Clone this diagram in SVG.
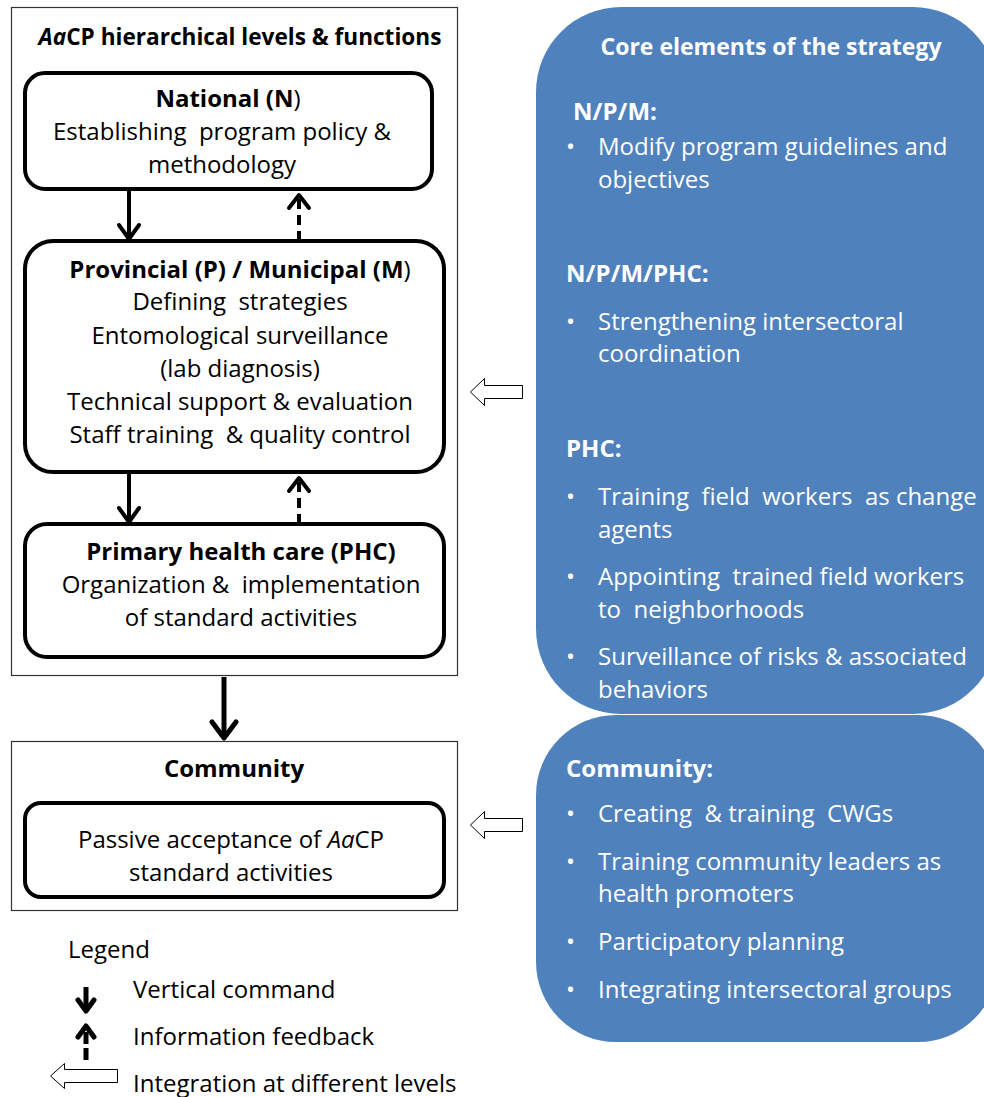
<svg xmlns="http://www.w3.org/2000/svg" width="984" height="1097" viewBox="0 0 984 1097">
<defs>
<style>
text{font-family:"Open Sans","Liberation Sans",Arial,sans-serif;font-size:24px;fill:#000;white-space:pre}
.b{font-weight:bold}
.c{text-anchor:middle}
.w{fill:#fff}
.frame{fill:#fff;stroke:#333;stroke-width:1.2}
.node{fill:#fff;stroke:#000;stroke-width:4}
.solid{stroke:#000;stroke-width:4;fill:none}
.dash{stroke:#000;stroke-width:4;fill:none;stroke-dasharray:10 6}
.head{stroke:#000;stroke-width:4;fill:none;stroke-linecap:round;stroke-linejoin:round}
.hollow{fill:#fff;stroke:#000;stroke-width:1}
.panel{fill:#4F81BD}
</style>
</defs>
<rect width="984" height="1097" fill="#fff"/>

<g id="hierarchy-frame">
<rect class="frame" x="11.5" y="7.5" width="446" height="668"/>
<text class="b c" x="240" y="45" style="font-size:22.6px"><tspan font-style="italic">Aa</tspan>CP hierarchical levels &amp; functions</text>
</g>

<g id="national">
<rect class="node" x="25" y="73" width="407" height="116" rx="20"/>
<text class="c" x="228" y="107"><tspan class="b">National (N</tspan>)</text>
<text class="c" x="222" y="140">Establishing  program policy &amp;</text>
<text class="c" x="222" y="173">methodology</text>
</g>

<g id="provincial">
<rect class="node" x="25" y="241" width="419" height="231" rx="28"/>
<text class="c" x="240" y="278"><tspan class="b">Provincial (P) / Municipal (M</tspan>)</text>
<text class="c" x="240" y="310">Defining  strategies</text>
<text class="c" x="240" y="344">Entomological surveillance</text>
<text class="c" x="240" y="377">(lab diagnosis)</text>
<text class="c" x="240" y="410">Technical support &amp; evaluation</text>
<text class="c" x="240" y="443">Staff training  &amp; quality control</text>
</g>

<g id="phc">
<rect class="node" x="25" y="524" width="419" height="133" rx="22"/>
<text class="b c" x="241" y="560">Primary health care (PHC)</text>
<text class="c" x="241" y="593">Organization &amp;  implementation</text>
<text class="c" x="241" y="626">of standard activities</text>
</g>

<g id="community">
<rect class="frame" x="11.5" y="741.5" width="446" height="169"/>
<text class="b c" x="234" y="777">Community</text>
<rect class="node" x="25" y="803" width="419" height="94" rx="16"/>
<text class="c" x="231" y="848">Passive acceptance of <tspan font-style="italic">Aa</tspan>CP</text>
<text class="c" x="231" y="881">standard activities</text>
</g>

<g id="strategy-panel">
<rect class="panel" x="536" y="7" width="462" height="707" rx="85"/>
<text class="b c w" x="771" y="55" style="font-size:23px">Core elements of the strategy</text>
<text class="b w" x="573" y="120">N/P/M:</text>
<text class="w" x="566" y="155">•</text>
<text class="w" x="598" y="155">Modify program guidelines and</text>
<text class="w" x="598" y="188">objectives</text>
<text class="b w" x="566" y="282">N/P/M/PHC:</text>
<text class="w" x="566" y="330">•</text>
<text class="w" x="598" y="330">Strengthening intersectoral</text>
<text class="w" x="598" y="362">coordination</text>
<text class="b w" x="566" y="457">PHC:</text>
<text class="w" x="566" y="505">•</text>
<text class="w" x="598" y="505">Training  field  workers  as change</text>
<text class="w" x="598" y="538">agents</text>
<text class="w" x="566" y="585">•</text>
<text class="w" x="598" y="585">Appointing  trained field workers</text>
<text class="w" x="598" y="618">to  neighborhoods</text>
<text class="w" x="566" y="665">•</text>
<text class="w" x="598" y="665">Surveillance of risks &amp; associated</text>
<text class="w" x="598" y="698">behaviors</text>
</g>

<g id="community-panel">
<rect class="panel" x="536" y="715" width="462" height="327" rx="80"/>
<text class="b w" x="566" y="777">Community:</text>
<text class="w" x="566" y="822">•</text>
<text class="w" x="598" y="822">Creating  &amp; training  CWGs</text>
<text class="w" x="566" y="870">•</text>
<text class="w" x="598" y="870">Training community leaders as</text>
<text class="w" x="598" y="902">health promoters</text>
<text class="w" x="566" y="950">•</text>
<text class="w" x="598" y="950">Participatory planning</text>
<text class="w" x="566" y="998">•</text>
<text class="w" x="598" y="998">Integrating intersectoral groups</text>
</g>

<g id="connectors">
<line class="solid" x1="129" y1="189" x2="129" y2="239"/>
<polyline class="head" points="119,225 129,239 139,225"/>
<line class="dash" x1="299" y1="241" x2="299" y2="195"/>
<polyline class="head" points="289,208 299,195 309,208"/>
<line class="solid" x1="129" y1="472" x2="129" y2="522"/>
<polyline class="head" points="119,508 129,522 139,508"/>
<line class="dash" x1="299" y1="524" x2="299" y2="478"/>
<polyline class="head" points="289,491 299,478 309,491"/>
<line class="solid" x1="224" y1="677" x2="224" y2="738" style="stroke-width:5"/>
<polyline class="head" points="212,722 224,738 236,722" style="stroke-width:5"/>
<polygon class="hollow" points="470.5,392 484.5,378.5 484.5,385.5 522.5,385.5 522.5,398.5 484.5,398.5 484.5,405.5"/>
<polygon class="hollow" points="470.5,825 484.5,811.5 484.5,818.5 522.5,818.5 522.5,831.5 484.5,831.5 484.5,838.5"/>
</g>

<g id="legend">
<text x="68" y="958">Legend</text>
<line class="solid" x1="86" y1="987" x2="86" y2="1011" style="stroke-width:5"/>
<polyline class="head" points="78,1000 86,1011 94,1000" style="stroke-width:5"/>
<text x="133" y="998">Vertical command</text>
<line class="dash" x1="86" y1="1060" x2="86" y2="1028" style="stroke-width:5;stroke-dasharray:12 4"/>
<polyline class="head" points="78,1037 86,1026 94,1037" style="stroke-width:5"/>
<text x="133" y="1045">Information feedback</text>
<polygon class="hollow" points="50.5,1076 64.5,1063.5 64.5,1069.5 117.5,1069.5 117.5,1082.5 64.5,1082.5 64.5,1088.5"/>
<text x="133" y="1092">Integration at different levels</text>
</g>
</svg>
